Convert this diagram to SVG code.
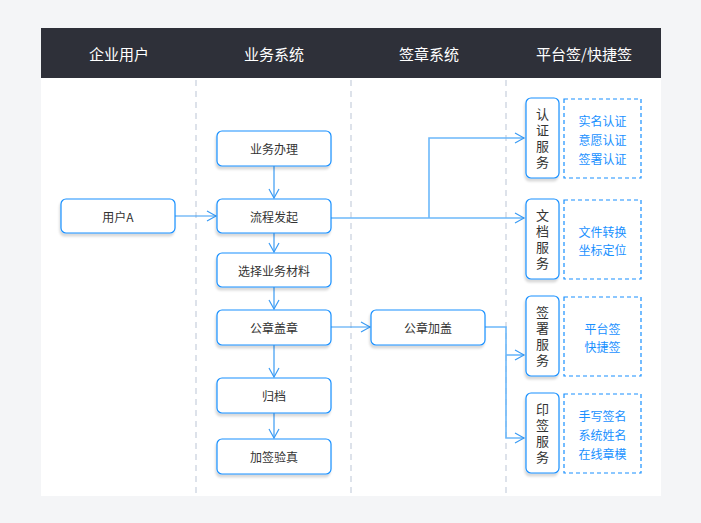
<svg xmlns="http://www.w3.org/2000/svg" width="701" height="523" viewBox="0 0 701 523">
<defs>
<style>
text{font-family:"Noto Sans CJK SC","Noto Sans",sans-serif;}
.hd{fill:#ffffff;font-size:15px;text-anchor:middle;dominant-baseline:central;}
.nd{fill:#ffffff;stroke:#1890ff;stroke-width:1.2;}
.nt{fill:#333333;font-size:12px;text-anchor:middle;dominant-baseline:central;}
.vt{fill:#333333;font-size:13px;text-anchor:middle;writing-mode:vertical-rl;letter-spacing:3px;}
.db{fill:none;stroke:#1890ff;stroke-width:1.2;stroke-dasharray:4 3;}
.bt{fill:#1890ff;font-size:12px;text-anchor:middle;dominant-baseline:central;}
.sep{stroke:#dde2ea;stroke-width:2;stroke-dasharray:6 5;}
.cn{fill:none;stroke:#3a9bf4;stroke-width:1.2;}
.cl{fill:none;stroke:#6cb8fa;stroke-width:1.6;}
</style>
<marker id="ar" markerWidth="12" markerHeight="12" refX="10" refY="6" orient="auto" markerUnits="userSpaceOnUse">
<path d="M1,1 L10,6 L1,11" fill="none" stroke="#3a9bf4" stroke-width="1.2"/>
</marker>
<filter id="sh" x="-20%" y="-20%" width="140%" height="160%">
<feDropShadow dx="-1" dy="3" stdDeviation="1" flood-color="#000000" flood-opacity="0.15"/>
</filter>
</defs>
<rect width="701" height="523" fill="#f4f5f7"/>
<rect x="41" y="28" width="620" height="468" fill="#ffffff"/>
<rect x="41" y="28" width="620" height="50" fill="#2e3039"/>
<text class="hd" x="119" y="53">企业用户</text>
<text class="hd" x="274" y="53">业务系统</text>
<text class="hd" x="429" y="53">签章系统</text>
<text class="hd" x="584" y="53">平台签/快捷签</text>
<g id="separators">
<line class="sep" x1="196" y1="80" x2="196" y2="496"/>
<line class="sep" x1="351" y1="80" x2="351" y2="496"/>
<line class="sep" x1="506" y1="80" x2="506" y2="496"/>
</g>
<g id="connectors">
<line class="cn" x1="274" y1="166" x2="274" y2="198" marker-end="url(#ar)"/>
<line class="cn" x1="175" y1="216" x2="216" y2="216" marker-end="url(#ar)"/>
<line class="cn" x1="274" y1="233" x2="274" y2="252" marker-end="url(#ar)"/>
<line class="cn" x1="274" y1="287" x2="274" y2="309" marker-end="url(#ar)"/>
<line class="cn" x1="274" y1="345" x2="274" y2="377" marker-end="url(#ar)"/>
<line class="cn" x1="274" y1="413" x2="274" y2="438" marker-end="url(#ar)"/>
<line class="cn" x1="331" y1="327" x2="370" y2="327" marker-end="url(#ar)"/>
<path class="cl" d="M331,218 L524,218" marker-end="url(#ar)"/>
<path class="cl" d="M429,218 L429,138 L524,138" marker-end="url(#ar)"/>
<path class="cl" d="M485,327 L506,327 L506,438 L524,438" marker-end="url(#ar)"/>
<path class="cl" d="M506,355 L524,355" marker-end="url(#ar)"/>
</g>
<g id="n-yewubanli"><rect class="nd" filter="url(#sh)" x="217" y="131" width="114" height="35" rx="5"/><text class="nt" x="274" y="148.5">业务办理</text></g>
<g id="n-yonghuA"><rect class="nd" filter="url(#sh)" x="61" y="199" width="114" height="34" rx="5"/><text class="nt" x="118" y="216">用户A</text></g>
<g id="n-liuchengfaqi"><rect class="nd" filter="url(#sh)" x="217" y="199" width="114" height="34" rx="5"/><text class="nt" x="274" y="216">流程发起</text></g>
<g id="n-xuanze"><rect class="nd" filter="url(#sh)" x="217" y="253" width="114" height="34" rx="5"/><text class="nt" x="274" y="270">选择业务材料</text></g>
<g id="n-gongzhanggaizhang"><rect class="nd" filter="url(#sh)" x="217" y="310" width="114" height="35" rx="5"/><text class="nt" x="274" y="327.5">公章盖章</text></g>
<g id="n-gongzhangjiagai"><rect class="nd" filter="url(#sh)" x="371" y="310" width="114" height="35" rx="5"/><text class="nt" x="428" y="327.5">公章加盖</text></g>
<g id="n-guidang"><rect class="nd" filter="url(#sh)" x="217" y="378" width="114" height="35" rx="5"/><text class="nt" x="274" y="395.5">归档</text></g>
<g id="n-jiaqian"><rect class="nd" filter="url(#sh)" x="217" y="439" width="114" height="35" rx="5"/><text class="nt" x="274" y="456.5">加签验真</text></g>
<g id="s-renzheng"><rect class="nd" filter="url(#sh)" x="526" y="98" width="33" height="80" rx="5"/>
<text class="vt" x="542.5" y="139.5">认证服务</text></g>
<g id="d-renzheng"><rect class="db" x="564" y="99" width="77" height="79"/>
<text class="bt" x="602.5" y="120">实名认证</text><text class="bt" x="602.5" y="139">意愿认证</text><text class="bt" x="602.5" y="158">签署认证</text></g>
<g id="s-wendang"><rect class="nd" filter="url(#sh)" x="526" y="199" width="33" height="80" rx="5"/>
<text class="vt" x="542.5" y="240.5">文档服务</text></g>
<g id="d-wendang"><rect class="db" x="564" y="200" width="77" height="79"/>
<text class="bt" x="602.5" y="231">文件转换</text><text class="bt" x="602.5" y="249">坐标定位</text></g>
<g id="s-qianshu"><rect class="nd" filter="url(#sh)" x="526" y="296" width="33" height="80" rx="5"/>
<text class="vt" x="542.5" y="337.5">签署服务</text></g>
<g id="d-qianshu"><rect class="db" x="564" y="297" width="77" height="79"/>
<text class="bt" x="602.5" y="328">平台签</text><text class="bt" x="602.5" y="346">快捷签</text></g>
<g id="s-yinqian"><rect class="nd" filter="url(#sh)" x="526" y="393" width="33" height="80" rx="5"/>
<text class="vt" x="542.5" y="434.5">印签服务</text></g>
<g id="d-yinqian"><rect class="db" x="564" y="394" width="77" height="79"/>
<text class="bt" x="602.5" y="415">手写签名</text><text class="bt" x="602.5" y="434">系统姓名</text><text class="bt" x="602.5" y="453">在线章模</text></g>
</svg>
